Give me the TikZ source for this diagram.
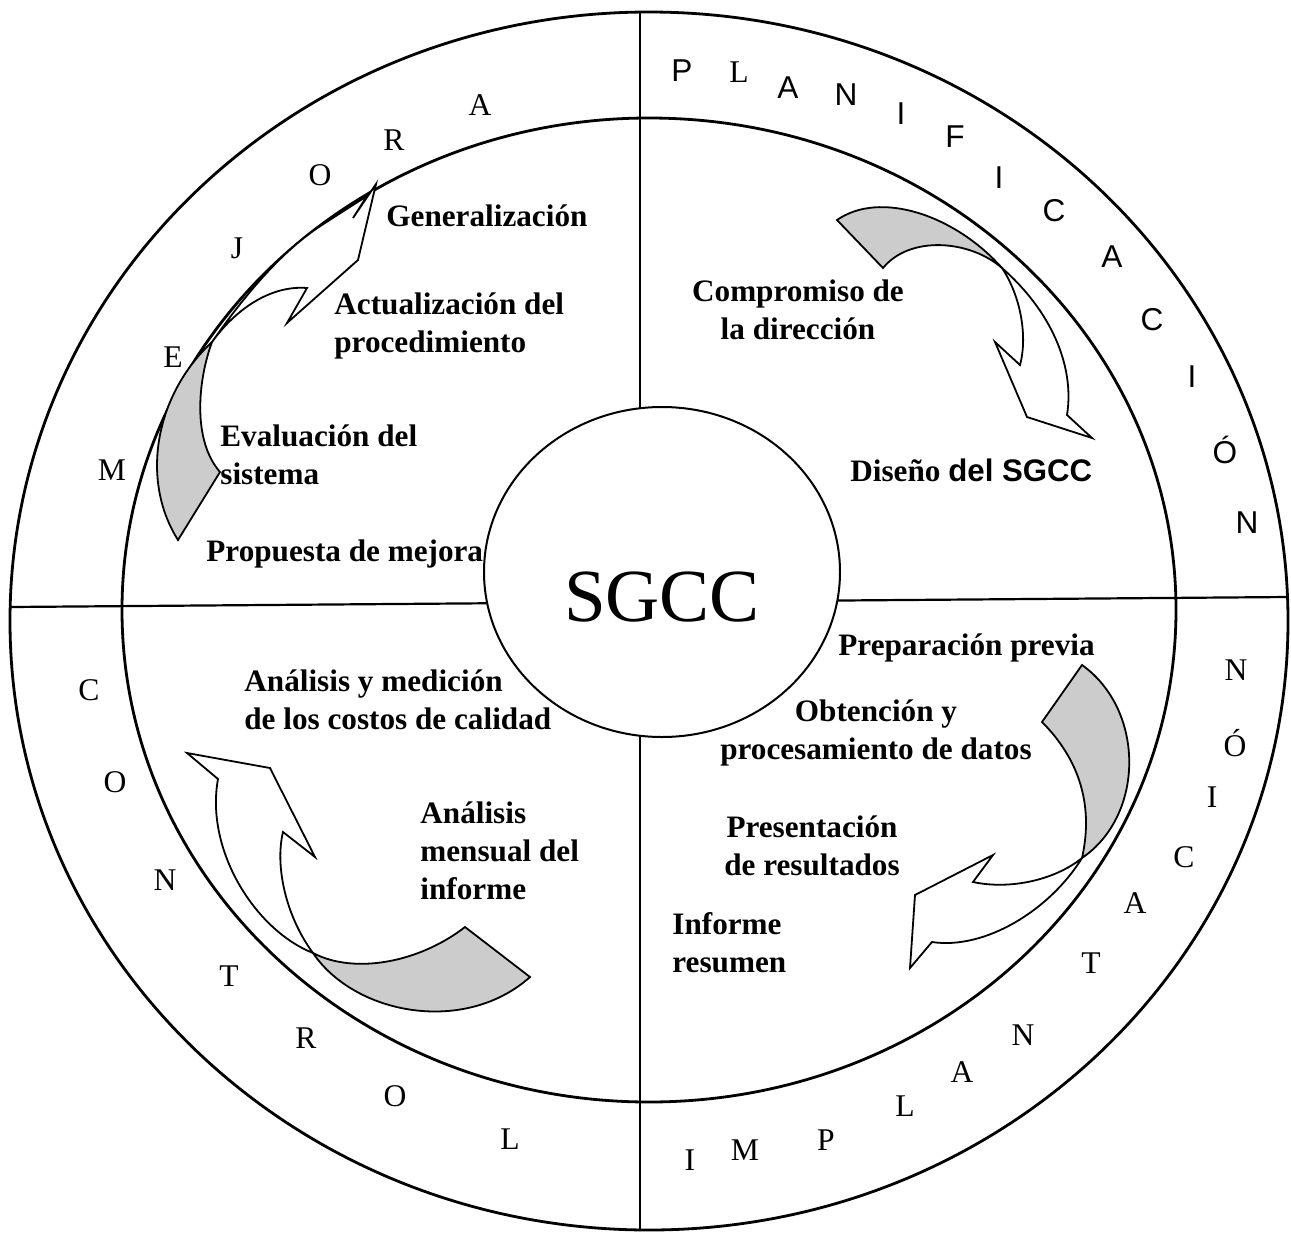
\documentclass[tikz,border=0pt]{standalone}
\usepackage{fontspec}
\setmainfont{Liberation Serif}
\newfontfamily\sgccsans{Liberation Sans}
\usetikzlibrary{shapes.geometric}
\tikzset{
  ring/.style={line width=1.4pt},
  divider/.style={line width=1.1pt},
  back part/.style={draw, line width=0.9pt, fill=gray!40},
  front part/.style={draw, line width=0.9pt, fill=white},
  stage/.style={font=\fontsize{15.6}{18.8}\selectfont\bfseries, anchor=base west, inner sep=0pt, align=left},
  centred stage/.style={stage, anchor=base, align=center},
  letter/.style={font=\fontsize{15.8}{18}\selectfont, inner sep=0pt},
  sans letter/.style={font=\sgccsans\fontsize{15.8}{18}\selectfont, inner sep=0pt},
}

\begin{document}
\begin{tikzpicture}[x=0.5pt, y=-0.5pt]
  \useasboundingbox (0,0) rectangle (1291,1233);

  % Rings
  \draw[ring] (649,621) ellipse [x radius=639, y radius=609];
  \draw[ring] (649,610) ellipse [x radius=527, y radius=492];

  % Dividers
  \coordinate (top) at (640,12);
  \coordinate (bottom) at (640,1230);
  \coordinate (left) at (10,607);
  \coordinate (right) at (1288,597);
  \draw[divider] (top) -- (bottom);
  \draw[divider] (left) -- (right);

  % Core
  \node[ellipse, draw, fill=white, line width=1pt, minimum width=178pt, minimum height=165pt, inner sep=0pt] (core) at (662,572) {};
  \node[font=\fontsize{37.5}{40}\selectfont] (sgcc) at (662,597) {SGCC};

  % Mejora arrow
  \draw[back part] (178,540) .. controls (140,480) and (155,395) .. (212,342)
    .. controls (198,380) and (192,440) .. (220,472) -- cycle;
  \draw[front part] (212,342) .. controls (245,295) and (282,250) .. (325,223)
    -- (367,196) -- (353,218) -- (376,184) -- (358,260) -- (287,323) -- (307,288)
    .. controls (270,285) and (235,310) .. cycle;

  % Planificacion arrow
  \draw[back part] (837,220) .. controls (880,190) and (955,215) .. (1002,268)
    .. controls (970,240) and (910,235) .. (883,268) -- cycle;
  \draw[front part] (1002,268) .. controls (1020,295) and (1028,335) .. (1020,365)
    -- (995,342) -- (1027,417) -- (1092,438) -- (1067,415)
    .. controls (1075,365) and (1050,310) .. cycle;

  % Implantacion arrow
  \draw[back part] (1082,665) .. controls (1145,710) and (1145,815) .. (1082,858)
    .. controls (1095,800) and (1075,755) .. (1042,722) -- cycle;
  \draw[front part] (1082,858) .. controls (1055,880) and (1010,890) .. (973,882)
    -- (993,855) -- (915,895) -- (910,968) -- (932,942)
    .. controls (985,950) and (1050,910) .. cycle;

  % Control arrow
  \draw[back part] (465,927) .. controls (420,962) and (355,975) .. (313,953)
    .. controls (355,1015) and (465,1035) .. (530,977) -- cycle;
  \draw[front part] (313,953) .. controls (285,915) and (275,865) .. (283,832)
    -- (315,857) -- (270,768) -- (187,753) -- (218,779)
    .. controls (205,850) and (255,930) .. cycle;

  % Stages (base = last line)
  \node[stage] (gen) at (386,226) {Generalización};
  \node[stage] (act) at (334,352) {Actualización del\\procedimiento};
  \node[stage] (eva) at (220,484) {Evaluación del\\sistema};
  \node[stage] (pro) at (206,561) {Propuesta de mejora};
  \node[centred stage] (com) at (798,339) {Compromiso de\\la dirección};
  \node[stage] (dis) at (850,481) {Diseño {\sgccsans del SGCC}};
  \node[stage] (pre) at (838,655) {Preparación previa};
  \node[centred stage] (obt) at (876,759) {Obtención y\\procesamiento de datos};
  \node[centred stage] (res) at (812,875) {Presentación\\de resultados};
  \node[stage] (inf) at (672,972) {Informe\\resumen};
  \node[stage] (med) at (244,729) {Análisis y medición\\de los costos de calidad};
  \node[stage] (men) at (420,899) {Análisis\\mensual del\\informe};

  % Mejora
  \node[letter] (m1) at (112,470) {M};
  \node[letter] (m2) at (173,357) {E};
  \node[letter] (m3) at (237,248) {J};
  \node[letter] (m4) at (320,175) {O};
  \node[letter] (m5) at (394,140) {R};
  \node[letter] (m6) at (480,105) {A};

  % Planificacion
  \node[sans letter] (p1) at (682,71) {P};
  \node[letter] (p2) at (739,72) {L};
  \node[sans letter] (p3) at (788,88) {A};
  \node[sans letter] (p4) at (846,95) {N};
  \node[sans letter] (p5) at (901,114) {I};
  \node[sans letter] (p6) at (955,137) {F};
  \node[sans letter] (p7) at (999,178) {I};
  \node[sans letter] (p8) at (1054,211) {C};
  \node[sans letter] (p9) at (1112,257) {A};
  \node[sans letter] (p10) at (1152,320) {C};
  \node[sans letter] (p11) at (1192,377) {I};
  \node[sans letter] (p12) at (1225,450) {Ó};
  \node[sans letter] (p13) at (1247,523) {N};

  % Implantacion
  \node[letter] (i1) at (690,1160) {I};
  \node[letter] (i2) at (745,1150) {M};
  \node[letter] (i3) at (826,1140) {P};
  \node[letter] (i4) at (905,1106) {L};
  \node[letter] (i5) at (962,1072) {A};
  \node[letter] (i6) at (1023,1035) {N};
  \node[letter] (i7) at (1091,963) {T};
  \node[letter] (i8) at (1135,903) {A};
  \node[letter] (i9) at (1184,857) {C};
  \node[letter] (i10) at (1212,797) {I};
  \node[letter] (i11) at (1235,743) {Ó};
  \node[letter] (i12) at (1236,670) {N};

  % Control
  \node[letter] (c1) at (89,690) {C};
  \node[letter] (c2) at (115,782) {O};
  \node[letter] (c3) at (165,880) {N};
  \node[letter] (c4) at (229,976) {T};
  \node[letter] (c5) at (306,1038) {R};
  \node[letter] (c6) at (395,1096) {O};
  \node[letter] (c7) at (510,1139) {L};
\end{tikzpicture}
\end{document}
